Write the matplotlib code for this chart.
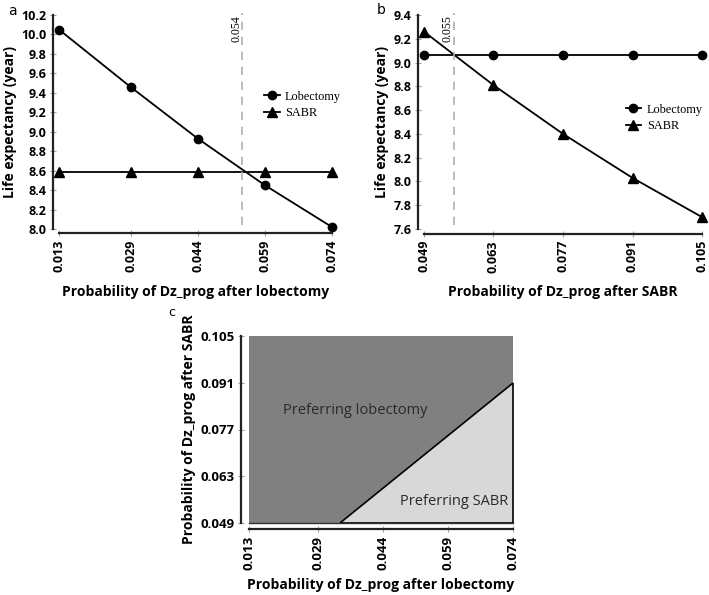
import matplotlib.pyplot as plt
import numpy as np

# panel a: varying probability of disease progression after lobectomy
p_lob = [0.013, 0.029, 0.044, 0.059, 0.074]
le_lob_a = [10.05, 9.46, 8.93, 8.45, 8.02]
le_sabr_a = [8.59, 8.59, 8.59, 8.59, 8.59]
thr_a = 0.054

# panel b: varying probability of disease progression after SABR
p_sabr = [0.049, 0.063, 0.077, 0.091, 0.105]
le_lob_b = [9.06, 9.06, 9.06, 9.06, 9.06]
le_sabr_b = [9.26, 8.81, 8.40, 8.03, 7.70]
thr_b = 0.055

# panel c: two-way sensitivity boundary (lobectomy prob, SABR prob)
edge_x = [0.034, 0.074]
edge_y = [0.049, 0.091]

plt.rcParams['font.family'] = ['Open Sans', 'DejaVu Sans']
tick_gray = '#a0a0a0'
spine_col = '#222222'

fig = plt.figure(figsize=(7.09, 5.95), dpi=100)
W, H = 709, 595

def box(l, r, t, b):
    return [l / W, (H - b) / H, (r - l) / W, (b - t) / H]

def style(ax, left_out, bottom_out, size=9):
    for s in ['top', 'right']:
        ax.spines[s].set_visible(False)
    ax.spines['left'].set_position(('outward', left_out))
    ax.spines['bottom'].set_position(('outward', bottom_out))
    for s in ['left', 'bottom']:
        ax.spines[s].set_linewidth(1.6)
        ax.spines[s].set_color(spine_col)
    ax.tick_params(direction='inout', length=5, width=0.8, color=tick_gray,
                   labelsize=size, pad=2)
    for lab in ax.get_xticklabels() + ax.get_yticklabels():
        lab.set_fontweight('bold')
    for lab in ax.get_xticklabels():
        lab.set_rotation(90)

def line_panel(ax, xs, lob, sabr, thr, label_txt, legend_pos):
    ax.plot(xs, lob, color='black', lw=1.3, marker='o', ms=6, label='Lobectomy', clip_on=False)
    ax.plot(xs, sabr, color='black', lw=1.3, marker='^', ms=6.5, label='SABR', clip_on=False)
    ax.axvline(thr, ymin=0.02, ymax=1.01, color='#b0b0b0', lw=1.2, ls=(0, (5, 4)), clip_on=False)
    ax.text(thr, 1.0, label_txt, transform=ax.get_xaxis_transform(), rotation=90,
            ha='right', va='top', family='Liberation Serif', fontsize=8.5)
    ax.set_xticks(xs)
    ax.set_xticklabels(['%.3f' % v for v in xs])
    ax.legend(loc='center left', bbox_to_anchor=legend_pos, frameon=False,
              prop={'family': 'Liberation Serif', 'size': 8.8}, handlelength=1.3,
              handletextpad=0.45, borderpad=0, borderaxespad=0, labelspacing=0.35)

# panel a
ax1 = fig.add_axes(box(59, 332, 15, 229))
line_panel(ax1, p_lob, le_lob_a, le_sabr_a, thr_a, '0.054', (0.75, 0.58))
ax1.set_xlim(0.013, 0.074)
ax1.set_ylim(8.0, 10.2)
ax1.set_yticks(np.arange(8.0, 10.21, 0.2))
ax1.set_yticklabels(['%.1f' % v for v in np.arange(8.0, 10.21, 0.2)])
style(ax1, 4.5, 3)
ax1.set_ylabel('Life expectancy (year)', fontsize=10, fontweight='bold', labelpad=3)
ax1.set_xlabel('Probability of Dz_prog after lobectomy', fontsize=10, fontweight='bold', labelpad=9)

# panel b
ax2 = fig.add_axes(box(424, 702, 15, 229))
line_panel(ax2, p_sabr, le_lob_b, le_sabr_b, thr_b, '0.055', (0.725, 0.52))
ax2.set_xlim(0.049, 0.105)
ax2.set_ylim(7.6, 9.4)
ax2.set_yticks(np.arange(7.6, 9.41, 0.2))
ax2.set_yticklabels(['%.1f' % v for v in np.arange(7.6, 9.41, 0.2)])
style(ax2, 4.5, 3.5)
ax2.set_ylabel('Life expectancy (year)', fontsize=10, fontweight='bold', labelpad=3)
ax2.set_xlabel('Probability of Dz_prog after SABR', fontsize=10, fontweight='bold', labelpad=9)

# panel c
ax3 = fig.add_axes(box(249, 513, 336, 523))
x0, x1 = p_lob[0], p_lob[-1]
y0, y1 = p_sabr[0], p_sabr[-1]
ax3.fill([x0, x1, x1, x0], [y0, y0, y1, y1], color='#808080', lw=0)
ax3.fill([edge_x[0], x1, edge_x[1]], [edge_y[0], y0, edge_y[1]], facecolor='#d8d8d8',
         edgecolor='black', lw=1.2, clip_on=False)
ax3.plot([x0, x1], [y0, y0], color='#333333', lw=1.0, clip_on=False)
ax3.text(0.0208, 0.0827, 'Preferring lobectomy', fontsize=10.5, color='#2a2a2a', va='center')
ax3.text(0.0478, 0.0555, 'Preferring SABR', fontsize=10.5, color='#2a2a2a', va='center')
ax3.set_xlim(x0, x1)
ax3.set_ylim(y0, y1)
ax3.set_xticks(p_lob)
ax3.set_xticklabels(['%.3f' % v for v in p_lob])
ax3.set_yticks(p_sabr)
ax3.set_yticklabels(['%.3f' % v for v in p_sabr])
style(ax3, 6, 4.5, size=9.5)
ax3.set_ylabel('Probability of Dz_prog after SABR', fontsize=10, fontweight='bold', labelpad=3)
ax3.set_xlabel('Probability of Dz_prog after lobectomy', fontsize=10, fontweight='bold', labelpad=6)

fig.text(8 / W, 1 - 11 / H, 'a', fontsize=10, family='DejaVu Sans', va='center')
fig.text(377 / W, 1 - 10 / H, 'b', fontsize=10, family='DejaVu Sans', va='center')
fig.text(168 / W, 1 - 313 / H, 'c', fontsize=9, family='DejaVu Sans', va='center')

fig.savefig('out.png', dpi=100)
